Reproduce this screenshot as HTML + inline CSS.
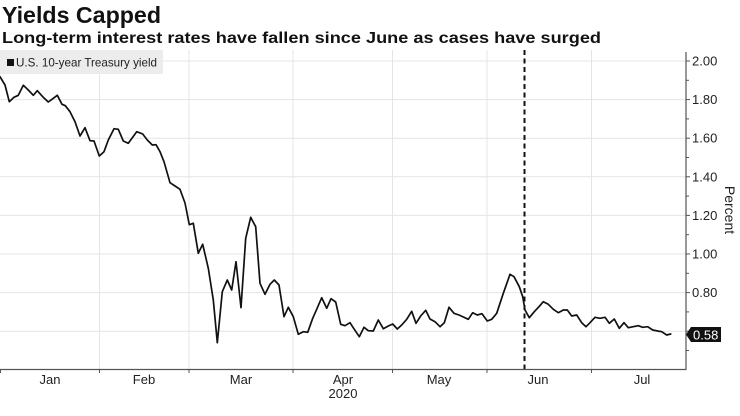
<!DOCTYPE html>
<html>
<head>
<meta charset="utf-8">
<style>
html,body{margin:0;padding:0;background:#fff;}
body{width:740px;height:416px;overflow:hidden;}
svg{display:block;}
text{font-family:"Liberation Sans",sans-serif;}
</style>
</head>
<body>
<svg width="740" height="416" viewBox="0 0 740 416" xmlns="http://www.w3.org/2000/svg">
  <rect x="0" y="0" width="740" height="416" fill="#fff"/>
  <!-- Titles -->
  <text x="2" y="23" font-size="23" font-weight="bold" fill="#111" textLength="159" lengthAdjust="spacingAndGlyphs">Yields Capped</text>
  <text x="2" y="43" font-size="16" font-weight="bold" fill="#111" textLength="599" lengthAdjust="spacingAndGlyphs">Long-term interest rates have fallen since June as cases have surged</text>

  <!-- Horizontal gridlines -->
  <g stroke="#e4e4e4" stroke-width="1">
    <line x1="0" y1="61" x2="686" y2="61"/>
    <line x1="0" y1="99.6" x2="686" y2="99.6"/>
    <line x1="0" y1="138.2" x2="686" y2="138.2"/>
    <line x1="0" y1="176.8" x2="686" y2="176.8"/>
    <line x1="0" y1="215.4" x2="686" y2="215.4"/>
    <line x1="0" y1="254" x2="686" y2="254"/>
    <line x1="0" y1="292.6" x2="686" y2="292.6"/>
    <line x1="0" y1="331.2" x2="686" y2="331.2"/>
  </g>
  <!-- Vertical gridlines -->
  <g stroke="#e4e4e4" stroke-width="1">
    <line x1="99.5" y1="50" x2="99.5" y2="369"/>
    <line x1="189" y1="50" x2="189" y2="369"/>
    <line x1="293" y1="50" x2="293" y2="369"/>
    <line x1="392.5" y1="50" x2="392.5" y2="369"/>
    <line x1="487" y1="50" x2="487" y2="369"/>
    <line x1="591.5" y1="50" x2="591.5" y2="369"/>
  </g>

  <!-- Legend -->
  <rect x="0" y="50" width="163" height="24" fill="#ececec"/>
  <rect x="7" y="59" width="7" height="7" fill="#111"/>
  <text x="16" y="66.5" font-size="11.6" fill="#222" textLength="141" lengthAdjust="spacingAndGlyphs">U.S. 10-year Treasury yield</text>

  <!-- Dashed vertical line -->
  <line x1="524.5" y1="50" x2="524.5" y2="369" stroke="#111" stroke-width="2" stroke-dasharray="5,3.5"/>

  <!-- Series -->
  <polyline fill="none" stroke="#111" stroke-width="1.7" stroke-linejoin="round" stroke-linecap="round" points="0,76.7 5,85 9.3,101.7 14,97.3 18.3,95.3 23.3,85.3 28.3,90 33.3,95.3 37.3,90.7 42.7,96.7 48.3,102 53.3,98.3 57.3,95.3 62,104.3 65.3,105.7 70,111.7 75,121.7 80,136 85,127.7 90,140.7 94,141 99.3,156 104,151.7 108.3,140 114,128.7 118.3,129.3 123.3,141 128.3,143.3 136.7,131.7 142.7,134 147.3,140 152.3,145 156,144.7 160,151.7 164,161.7 170,182.7 175,186 180,189.3 185,203 189.3,224.7 193.3,223.3 198.3,253.3 202.7,244.3 208.3,268.3 213.3,300 217.3,342.7 222.3,291.7 227.3,280 231.7,290 236,261.7 241,307.7 245.7,238.3 250.7,217.3 255.7,226.7 260,283.3 265,294.3 270,284.3 274.3,280 279,285 284,316.7 288.3,307.3 293.3,316.7 298.3,334.3 303.3,331.7 307.7,332.3 312.7,318.3 316.7,309.3 321.7,297.7 326.7,308.3 331,298.7 335.7,302 340.7,324.3 345,325.7 350,322.7 354.3,329.3 359.3,336.7 364,327.3 368.3,330.7 373.3,331 378.3,320 383.3,328.7 388.3,326 392.7,324 397.3,329 401.7,325 406.7,319.3 411.7,311.3 416,323.3 420.7,316 425.7,310.3 430,319 435,321.7 440,326.7 444.3,322.7 449,307.3 454,313.3 459,315 463.3,317 468.3,319.3 472.7,312.7 477.3,315 482,313.7 487.3,321 491.7,319.3 496.7,313.3 503.3,293.3 510,274.3 514,276.7 519.3,286.7 522.7,296.7 525,310 529.3,317.7 534.3,311.7 539,306.7 543.3,301.7 548.3,304.3 553.3,309.3 558.3,312.7 563.3,310 567.3,310 571.7,316 576.7,315 581.7,322.7 586,326.7 590,322.7 595,317.3 600,318.3 605,317.3 609.3,323.3 614.3,319 619.3,328.3 624,322.7 628.3,327.7 633.3,326.7 638.3,325.7 642.7,327.3 647.7,326.7 652.7,330 657.7,331 661.7,331.7 666.7,335 670.7,334"/>

  <!-- X axis -->
  <line x1="0" y1="369.5" x2="686" y2="369.5" stroke="#555" stroke-width="1.2"/>
  <g stroke="#555" stroke-width="1">
    <line x1="0.5" y1="369" x2="0.5" y2="373"/>
    <line x1="99.5" y1="369" x2="99.5" y2="373"/>
    <line x1="189" y1="369" x2="189" y2="373"/>
    <line x1="293" y1="369" x2="293" y2="373"/>
    <line x1="392.5" y1="369" x2="392.5" y2="373"/>
    <line x1="487" y1="369" x2="487" y2="373"/>
    <line x1="591.5" y1="369" x2="591.5" y2="373"/>
  </g>
  <g font-size="13" fill="#222" text-anchor="middle">
    <text x="50" y="384">Jan</text>
    <text x="144" y="384">Feb</text>
    <text x="241" y="384">Mar</text>
    <text x="343" y="384">Apr</text>
    <text x="343" y="398">2020</text>
    <text x="439" y="384">May</text>
    <text x="538" y="384">Jun</text>
    <text x="642" y="384">Jul</text>
  </g>

  <!-- Y axis (right) -->
  <line x1="686" y1="52" x2="686" y2="370" stroke="#555" stroke-width="1.2"/>
  <g stroke="#555" stroke-width="1">
    <line x1="686" y1="61" x2="690" y2="61"/>
    <line x1="686" y1="80.3" x2="689" y2="80.3"/>
    <line x1="686" y1="99.6" x2="690" y2="99.6"/>
    <line x1="686" y1="118.9" x2="689" y2="118.9"/>
    <line x1="686" y1="138.2" x2="690" y2="138.2"/>
    <line x1="686" y1="157.5" x2="689" y2="157.5"/>
    <line x1="686" y1="176.8" x2="690" y2="176.8"/>
    <line x1="686" y1="196.1" x2="689" y2="196.1"/>
    <line x1="686" y1="215.4" x2="690" y2="215.4"/>
    <line x1="686" y1="234.7" x2="689" y2="234.7"/>
    <line x1="686" y1="254" x2="690" y2="254"/>
    <line x1="686" y1="273.3" x2="689" y2="273.3"/>
    <line x1="686" y1="292.6" x2="690" y2="292.6"/>
    <line x1="686" y1="311.9" x2="689" y2="311.9"/>
    <line x1="686" y1="331.2" x2="690" y2="331.2"/>
    <line x1="686" y1="350.5" x2="689" y2="350.5"/>
  </g>
  <g font-size="13" fill="#222">
    <text x="692" y="65.5">2.00</text>
    <text x="692" y="104">1.80</text>
    <text x="692" y="142.7">1.60</text>
    <text x="692" y="181.3">1.40</text>
    <text x="692" y="219.9">1.20</text>
    <text x="692" y="258.5">1.00</text>
    <text x="692" y="297.1">0.80</text>
  </g>
  <text transform="translate(725,210) rotate(90)" x="0" y="0" font-size="14" fill="#222" text-anchor="middle">Percent</text>

  <!-- Last value label -->
  <path d="M686,334.5 L691,327 L721,327 L721,342 L691,342 Z" fill="#111"/>
  <text x="693" y="339.5" font-size="13" fill="#fff">0.58</text>
</svg>
</body>
</html>
